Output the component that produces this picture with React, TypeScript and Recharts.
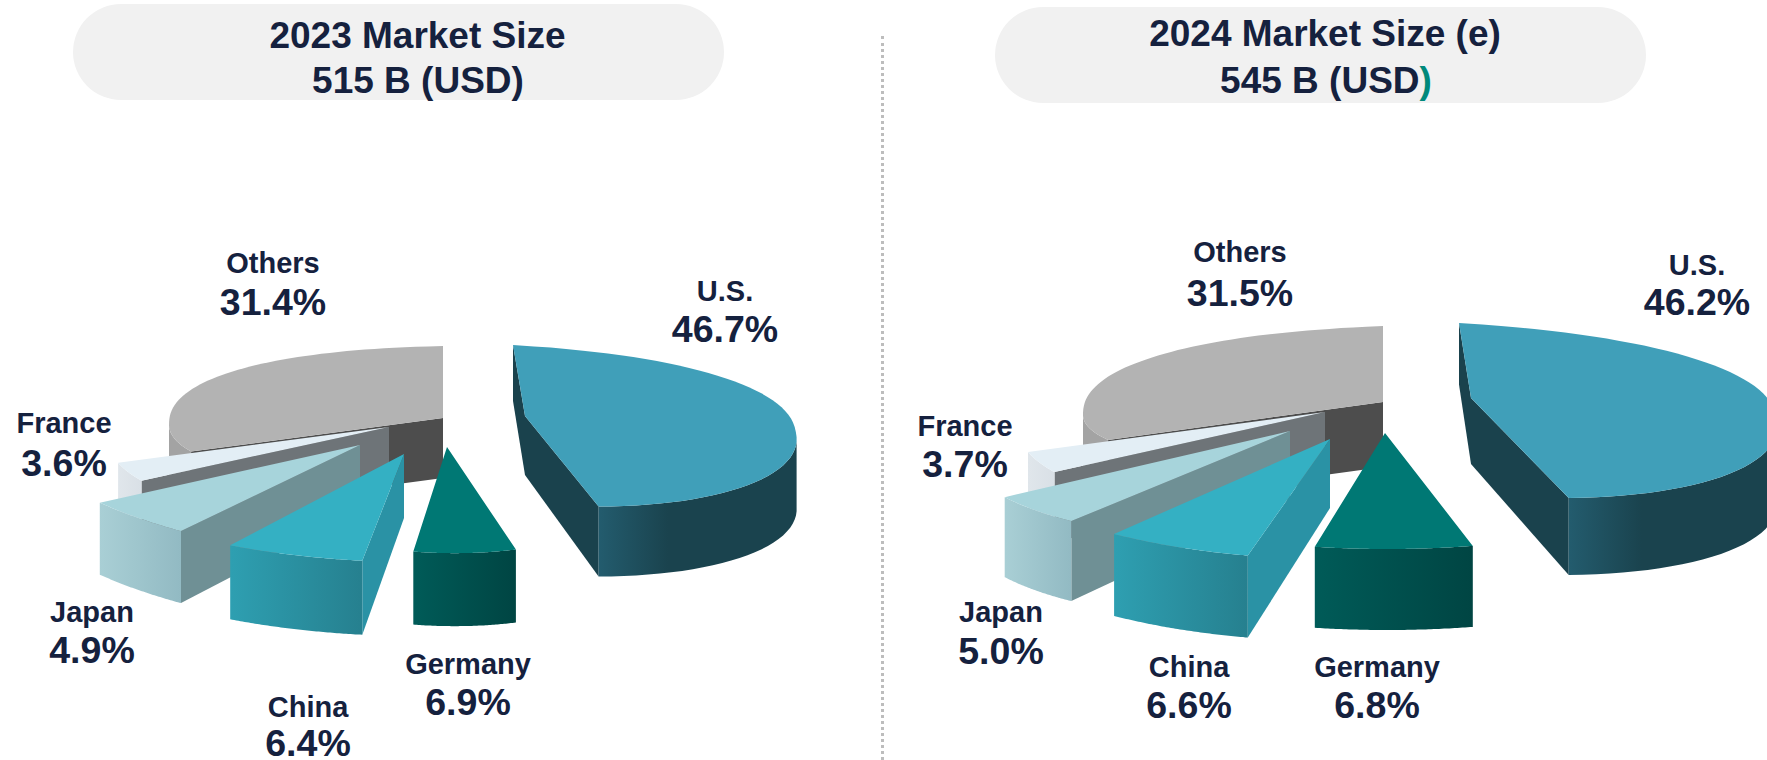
import { PieChart, Pie } from "recharts";

const NAMES = ["Others", "France", "Japan", "China", "Germany", "U.S."];
const SHARE_2023 = [31.4, 3.6, 4.9, 6.4, 6.9, 46.7];
const SHARE_2024 = [31.5, 3.7, 5.0, 6.6, 6.8, 46.2];

const INK = "#15213E";

// top face, cut face, outer wall gradient
const COLORS: Record<string, string[]> = {
  Others: ["#B3B3B3", "#4D4D4D", "#A3A3A3", "#A3A3A3"],
  France: ["#E3EEF5", "#6E7478", "#E0E6EB", "#D9E0E6"],
  Japan: ["#A7D4DB", "#6F9095", "#A9CFD5", "#92BAC3"],
  China: ["#34B0C3", "#2A92A5", "#2E9FB1", "#26808F"],
  Germany: ["#007874", "#004A48", "#005B58", "#004543"],
  "U.S.": ["#409FB9", "#1A424D", "#235C6E", "#1A434E"],
};

// explode offset and projection of each slice:
// dx, dy, rx, ryBack, ryFront, txFront, ty, depth, apexDepth, txBack
const GEOMETRY_2023: Record<string, number[]> = {
  Others: [0, 0, 274, 72, 69, 0, -7, 60, 60, 0],
  France: [-54, 9, 278, 91, 91, -39, 0, 60, 62, 0],
  Japan: [-83, 27, 344, 117, 117, 30, 14, 72, 65, 0],
  China: [-39, 36, 346, 108, 108, 38, -7, 74, 64, 0],
  Germany: [4, 29, 238, 106, 106, 21, -6, 73, 73, 0],
  "U.S.": [82, -2, 271, 71, 89, 19, 17, 70, 59, 12],
};
const GEOMETRY_2024: Record<string, number[]> = {
  Others: [0, 0, 300, 76, 65, 0, -13, 65, 65, 0],
  France: [-58, 10, 304, 100, 100, -46, 0, 70, 68, 0],
  Japan: [-93, 29, 330, 110, 110, -36, 0, 80, 68, 0],
  China: [-53, 37, 358, 120, 120, -13, 6, 82, 69, 0],
  Germany: [2, 31, 372, 116, 116, 2, 0, 81, 81, 0],
  "U.S.": [88, -4, 305, 75, 98, 28, 20, 77, 66, 12],
};

// label centres: x, name y, value y
const LABELS_2023: Record<string, number[]> = {
  Others: [273, 263, 302],
  France: [64, 423, 463],
  Japan: [92, 612, 650],
  China: [308, 707, 743],
  Germany: [468, 664, 702],
  "U.S.": [725, 291, 329],
};
const LABELS_2024: Record<string, number[]> = {
  Others: [1240, 252, 293],
  France: [965, 426, 464],
  Japan: [1001, 612, 651],
  China: [1189, 667, 705],
  Germany: [1377, 667, 705],
  "U.S.": [1697, 265, 302],
};

// the back half of the pie is drawn a little fuller than an ellipse
const BACK_POWER = 0.85;

type Pt = [number, number];

const toPath = (pts: Pt[]) =>
  "M" + pts.map((p) => `${p[0].toFixed(1)},${p[1].toFixed(1)}`).join("L") + "Z";

// true when the wall hanging below edge a-b is turned towards the viewer
const facesViewer = (a: Pt, b: Pt, inside: Pt) => {
  const ux = b[0] - a[0];
  const uy = b[1] - a[1];
  const toInside = ux * (inside[1] - a[1]) - uy * (inside[0] - a[0]);
  return ux * toInside < 0;
};

const sliceShape = (geometry: Record<string, number[]>) => (props: any) => {
  const { name, cx, cy, startAngle, endAngle } = props;
  const [dx, dy, rx, ryBack, ryFront, txFront, ty, depth, apexDepth, txBack] = geometry[name];
  const [top, cut] = COLORS[name];
  const apex: Pt = [cx + dx, cy + dy];
  const apexLow: Pt = [apex[0], apex[1] + apexDepth];

  const arc: Pt[] = [];
  const low: Pt[] = [];
  const steps = 60;
  for (let i = 0; i <= steps; i++) {
    const a = ((startAngle + ((endAngle - startAngle) * i) / steps) * Math.PI) / 180;
    let s = Math.sin(a);
    let c = Math.cos(a);
    const back = s > 0;
    if (back) {
      s = Math.pow(s, BACK_POWER);
      c = Math.sign(c) * Math.pow(Math.abs(c), BACK_POWER);
    }
    const p: Pt = [
      apex[0] + rx * c - (back ? txBack : txFront) * s,
      apex[1] - (back ? ryBack : ryFront) * s + ty * c,
    ];
    arc.push(p);
    low.push([p[0], p[1] + depth * (1 - 0.2 * Math.max(s, 0))]);
  }

  const mid = arc[steps / 2];
  const cuts = [0, steps]
    .filter((i) => facesViewer(apex, arc[i], mid))
    .map((i) => toPath([apex, arc[i], low[i], apexLow]));

  const shown: number[] = [];
  for (let i = 0; i < steps; i++) {
    if (facesViewer(arc[i], arc[i + 1], apex)) shown.push(i);
  }
  let wall = "";
  if (shown.length) {
    const from = shown[0];
    const to = shown[shown.length - 1] + 1;
    wall = toPath([...arc.slice(from, to + 1), ...low.slice(from, to + 1).reverse()]);
  }

  return (
    <g>
      {cuts.map((d, i) => (
        <path key={i} d={d} fill={cut} />
      ))}
      {wall && <path d={wall} fill={`url(#wall-${NAMES.indexOf(name)})`} />}
      <path d={toPath([apex, ...arc])} fill={top} />
    </g>
  );
};

const sliceLabel = (labels: Record<string, number[]>) => (props: any) => {
  const [x, nameY, valueY] = labels[props.name];
  return (
    <g key={props.name} style={{ fontFamily: "'Liberation Sans', Arial, sans-serif", fontWeight: 700 }}>
      <text x={x} y={nameY} textAnchor="middle" dominantBaseline="central" fontSize={29} fill={INK}>
        {props.name}
      </text>
      <text x={x} y={valueY} textAnchor="middle" dominantBaseline="central" fontSize={37.5} fill={INK}>
        {props.value.toFixed(1)}%
      </text>
    </g>
  );
};

const toRows = (values: number[]) => NAMES.map((name, i) => ({ name, value: values[i] }));

const pill = (left: number, top: number) => ({
  position: "absolute" as const,
  left,
  top,
  width: 651,
  height: 96,
  borderRadius: 48,
  background: "#F1F1F1",
});

const titleLine = (center: number, top: number) => ({
  position: "absolute" as const,
  left: center - 325,
  top,
  width: 650,
  textAlign: "center" as const,
  fontFamily: "'Liberation Sans', Arial, sans-serif",
  fontWeight: 700,
  fontSize: 37,
  lineHeight: "46px",
  color: INK,
  whiteSpace: "nowrap" as const,
});

export default function App() {
  return (
    <div style={{ position: "fixed", left: 0, top: 0, width: 1767, height: 760, overflow: "hidden", background: "#fff" }}>
      <div style={pill(73, 4)} />
      <div style={pill(995, 7)} />
      <div style={titleLine(417.5, 13)}>2023 Market Size</div>
      <div style={titleLine(418, 58)}>515 B (USD)</div>
      <div style={titleLine(1325, 11)}>2024 Market Size (e)</div>
      <div style={titleLine(1326, 58)}>
        545 B (USD<span style={{ color: "#00897B" }}>)</span>
      </div>
      <div style={{ position: "absolute", left: 881, top: 36, height: 724, width: 0, borderLeft: "3px dotted #BDBDBD" }} />
      <div style={{ position: "absolute", left: 0, top: 0 }}>
        <PieChart width={1767} height={760} margin={{ top: 0, right: 0, bottom: 0, left: 0 }}>
          <defs>
            {NAMES.map((name, i) => (
              <linearGradient key={name} id={`wall-${i}`} x1="0" y1="0" x2="1" y2="0">
                <stop offset="0%" stopColor={COLORS[name][2]} />
                <stop offset={name === "U.S." ? "35%" : "100%"} stopColor={COLORS[name][3]} />
              </linearGradient>
            ))}
          </defs>
          <Pie
            data={toRows(SHARE_2023)}
            dataKey="value"
            nameKey="name"
            cx={443}
            cy={418}
            outerRadius={250}
            startAngle={90}
            endAngle={450}
            stroke="none"
            isAnimationActive={false}
            labelLine={false}
            shape={sliceShape(GEOMETRY_2023)}
            label={sliceLabel(LABELS_2023)}
          />
          <Pie
            data={toRows(SHARE_2024)}
            dataKey="value"
            nameKey="name"
            cx={1383}
            cy={402}
            outerRadius={270}
            startAngle={90}
            endAngle={450}
            stroke="none"
            isAnimationActive={false}
            labelLine={false}
            shape={sliceShape(GEOMETRY_2024)}
            label={sliceLabel(LABELS_2024)}
          />
        </PieChart>
      </div>
    </div>
  );
}
